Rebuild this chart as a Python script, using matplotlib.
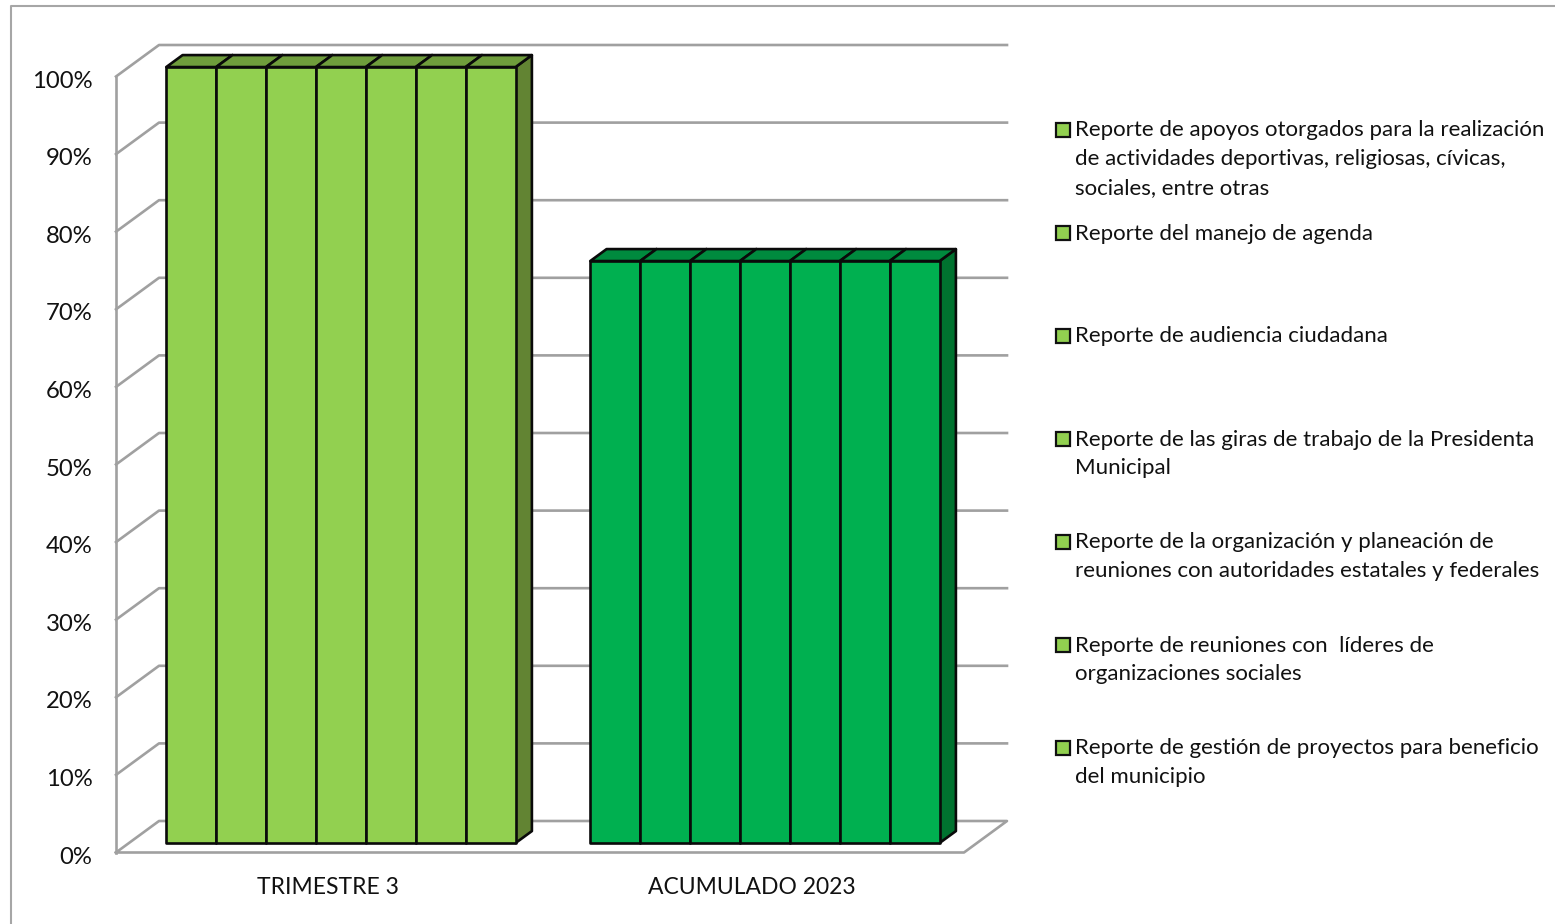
import matplotlib
matplotlib.use("Agg")
import matplotlib.pyplot as plt
from matplotlib.lines import Line2D
from matplotlib.patches import Polygon
from matplotlib.transforms import ScaledTranslation

categories = ["TRIMESTRE 3", "ACUMULADO 2023"]
series = [
    "Reporte de apoyos otorgados para la realización\nde actividades deportivas, religiosas, cívicas,\nsociales, entre otras",
    "Reporte del manejo de agenda",
    "Reporte de audiencia ciudadana",
    "Reporte de las giras de trabajo de la Presidenta\nMunicipal",
    "Reporte de la organización y planeación de\nreuniones con autoridades estatales y federales",
    "Reporte de reuniones con  líderes de\norganizaciones sociales",
    "Reporte de gestión de proyectos para beneficio\ndel municipio",
]
values = [
    [100, 75],
    [100, 75],
    [100, 75],
    [100, 75],
    [100, 75],
    [100, 75],
    [100, 75],
]
yticks = [0, 10, 20, 30, 40, 50, 60, 70, 80, 90, 100]

W, H = 1555, 924
front_colors = ["#92d050", "#00b050"]
top_colors = ["#6f9d3c", "#008a3e"]
side_colors = ["#628433", "#00722f"]
grid_color = "#a0a0a0"

plt.rcParams["font.family"] = ["Lato", "DejaVu Sans"]
fig = plt.figure(figsize=(W / 100, H / 100), dpi=100)
ax = fig.add_axes([116 / W, 1 - 852.5 / H, 848 / W, 776 / H])
ax.set_xlim(0, 2)
ax.set_ylim(0, 100)
for s in ax.spines.values():
    s.set_visible(False)
ax.patch.set_alpha(0)

# fake 3d: depth 0 is the front of the floor, depth 1 the back wall
DX = 43 / 424
DY = 31.5 / 7.76


def proj(x, y, d):
    return (x + d * DX, y + d * DY)


# walls and floor
for t in yticks:
    xs = [0, DX, 2 + DX] if t > 0 else [0, DX, 2 + DX, 2, 0]
    ys = [t, t + DY, t + DY] if t > 0 else [0, DY, DY, 0, 0]
    ax.plot(xs, ys, color=grid_color, lw=1.9, clip_on=False, zorder=1)
ax.plot([0, 0], [0, 100], color=grid_color, lw=1.9, clip_on=False, zorder=1)

# bars
bar_w = 49.9 / 424
d0, d1 = 0.30, 0.68
for c in range(len(categories)):
    left = c + 0.5 - bar_w * len(series) / 2
    for i in range(len(series)):
        v = values[i][c]
        x0 = left + i * bar_w
        x1 = x0 + bar_w
        z = 3 + i
        side = [proj(x1, 0, d0), proj(x1, 0, d1), proj(x1, v, d1), proj(x1, v, d0)]
        top = [proj(x0, v, d0), proj(x0, v, d1), proj(x1, v, d1), proj(x1, v, d0)]
        front = [proj(x0, 0, d0), proj(x1, 0, d0), proj(x1, v, d0), proj(x0, v, d0)]
        for pts, col in [(side, side_colors[c]), (top, top_colors[c]), (front, front_colors[c])]:
            ax.add_patch(Polygon(pts, closed=True, facecolor=col, edgecolor="#0a0a0a",
                                 lw=1.9, joinstyle="round", clip_on=False, zorder=z))

ax.set_yticks(yticks)
ax.set_yticklabels([f"{t}%" for t in yticks])
ax.set_xticks([0.5, 1.5])
ax.set_xticklabels(categories)
ax.tick_params(axis="y", length=0, pad=17, labelsize=17.2, labelcolor="#111111")
ax.tick_params(axis="x", length=0, pad=18, labelsize=16.5, labelcolor="#111111")
for lab in ax.get_yticklabels():
    lab.set_transform(lab.get_transform() + ScaledTranslation(0, -2.5 / 100, fig.dpi_scale_trans))

# legend
for i, label in enumerate(series):
    y = 129.5 + i * 103
    fig.add_artist(Line2D([1063 / W], [1 - y / H], marker="s", ms=9.5, mfc=front_colors[0],
                          mec="#111111", mew=1.6, ls="none"))
    fig.text(1075 / W, 1 - (y - 9) / H, label, fontsize=16.0, color="#111111",
             va="top", ha="left", linespacing=1.56)

# chart border, cut by the image edge
fig.add_artist(Line2D([11 / W, 11 / W, 1], [0, 1 - 6 / H, 1 - 6 / H], color="#a6a6a6", lw=1.5))

fig.savefig("out.png", dpi=100)
